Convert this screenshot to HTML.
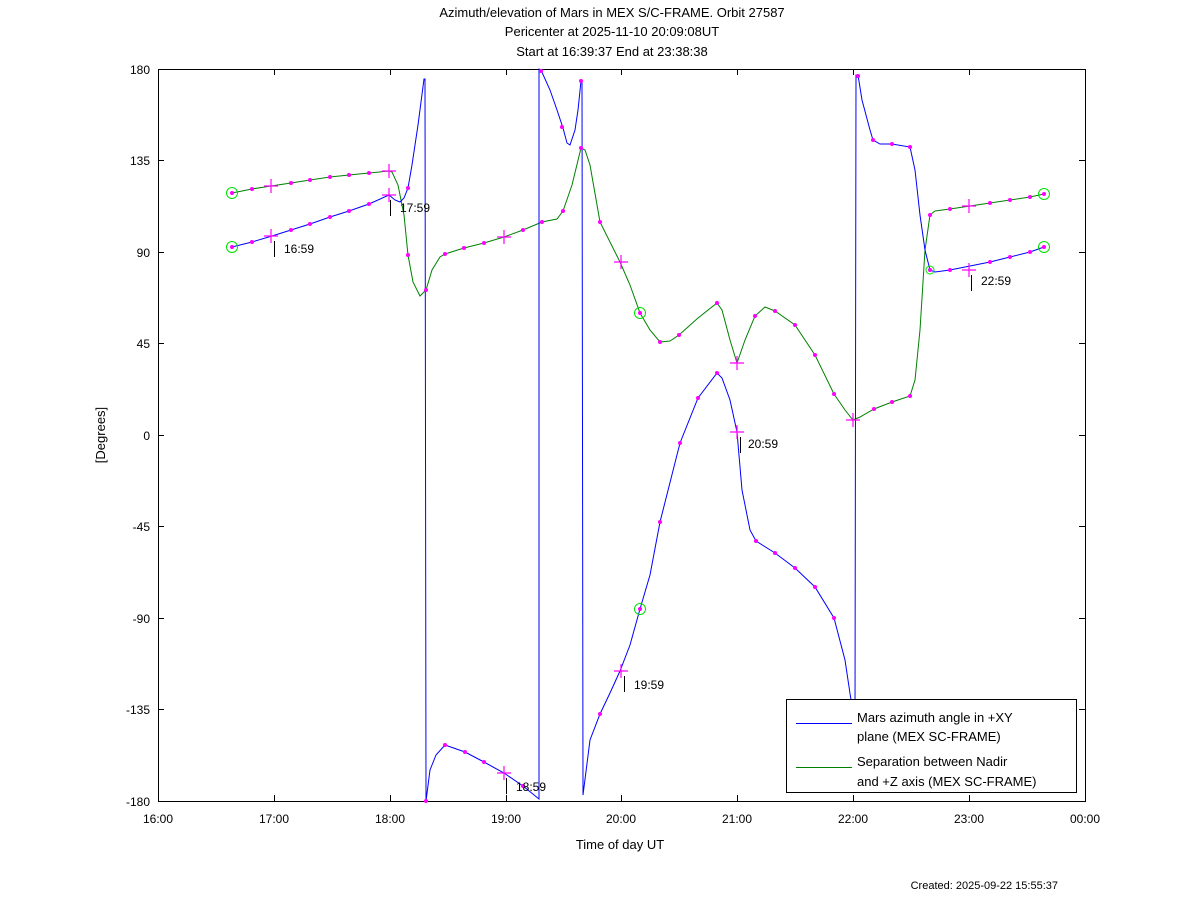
<!DOCTYPE html>
<html><head><meta charset="utf-8"><style>
html,body{margin:0;padding:0;background:#fff;}
svg{display:block;font-family:"Liberation Sans",sans-serif;}
</style></head><body>
<svg width="1200" height="901" viewBox="0 0 1200 901" xmlns="http://www.w3.org/2000/svg">
<rect width="1200" height="901" fill="#fff"/>
<g font-size="13" fill="#000" text-anchor="middle">
<text x="612" y="17">Azimuth/elevation of Mars in MEX S/C-FRAME.  Orbit 27587</text>
<text x="612" y="36">Pericenter at 2025-11-10 20:09:08UT</text>
<text x="612" y="56">Start at 16:39:37 End at 23:38:38</text>
<text x="620" y="849">Time of day UT</text>
<text x="105" y="435" transform="rotate(-90 105 435)">[Degrees]</text>
</g>
<text x="1058" y="889" font-size="11" text-anchor="end">Created: 2025-09-22 15:55:37</text>
<rect x="158.5" y="69.5" width="927" height="732" fill="none" stroke="#000"/>
<g stroke="#000">
<line x1="158" y1="69.5" x2="164" y2="69.5"/><line x1="1079" y1="69.5" x2="1085" y2="69.5"/>
<line x1="158" y1="160.5" x2="164" y2="160.5"/><line x1="1079" y1="160.5" x2="1085" y2="160.5"/>
<line x1="158" y1="252.5" x2="164" y2="252.5"/><line x1="1079" y1="252.5" x2="1085" y2="252.5"/>
<line x1="158" y1="343.5" x2="164" y2="343.5"/><line x1="1079" y1="343.5" x2="1085" y2="343.5"/>
<line x1="158" y1="435.5" x2="164" y2="435.5"/><line x1="1079" y1="435.5" x2="1085" y2="435.5"/>
<line x1="158" y1="526.5" x2="164" y2="526.5"/><line x1="1079" y1="526.5" x2="1085" y2="526.5"/>
<line x1="158" y1="618.5" x2="164" y2="618.5"/><line x1="1079" y1="618.5" x2="1085" y2="618.5"/>
<line x1="158" y1="709.5" x2="164" y2="709.5"/><line x1="1079" y1="709.5" x2="1085" y2="709.5"/>
<line x1="274.5" y1="69" x2="274.5" y2="75"/><line x1="274.5" y1="795" x2="274.5" y2="801"/>
<line x1="390.5" y1="69" x2="390.5" y2="75"/><line x1="390.5" y1="795" x2="390.5" y2="801"/>
<line x1="506.5" y1="69" x2="506.5" y2="75"/><line x1="506.5" y1="795" x2="506.5" y2="801"/>
<line x1="621.5" y1="69" x2="621.5" y2="75"/><line x1="621.5" y1="795" x2="621.5" y2="801"/>
<line x1="737.5" y1="69" x2="737.5" y2="75"/><line x1="737.5" y1="795" x2="737.5" y2="801"/>
<line x1="853.5" y1="69" x2="853.5" y2="75"/><line x1="853.5" y1="795" x2="853.5" y2="801"/>
<line x1="969.5" y1="69" x2="969.5" y2="75"/><line x1="969.5" y1="795" x2="969.5" y2="801"/>
</g>
<g font-size="12" text-anchor="end">
<text x="150" y="74">180</text><text x="150" y="165">135</text><text x="150" y="257">90</text>
<text x="150" y="348">45</text><text x="150" y="440">0</text><text x="150" y="531">-45</text>
<text x="150" y="623">-90</text><text x="150" y="714">-135</text><text x="150" y="806">-180</text>
</g>
<g font-size="12" text-anchor="middle">
<text x="158" y="823">16:00</text><text x="274" y="823">17:00</text><text x="390" y="823">18:00</text>
<text x="506" y="823">19:00</text><text x="621" y="823">20:00</text><text x="737" y="823">21:00</text>
<text x="853" y="823">22:00</text><text x="969" y="823">23:00</text><text x="1085" y="823">00:00</text>
</g>
<polyline fill="none" stroke="#008000" points="232,193 252,189 271,186 291,183 310,180 330,177 349,175 369,173 389,171 392,172 398,185 404,215 408,255 413,282 420,296 426,290 432,270 440,257 445,254 464,248 484,243 504,237 523,230 542,222 557,219 563,211 572,185 581,148 585,150 590,165 600,222 620,262 630,285 640,313 650,330 660,342 670,341 679,335 698,318 717,303 722,310 730,340 737,363 745,340 755,316 765,307 775,311 795,325 815,355 834,394 845,410 853,420 860,417 874,409 892,402 910,396 915,380 920,330 925,250 930,215 935,211 950,209 970,206 990,203 1010,200 1030,197 1044,194"/>
<polyline fill="none" stroke="#0000ff" points="232,247 252,242 272,236 291,230 310,224 330,217 349,211 369,204 389,195 395,200 400,202 404,198 408,188 412,165 418,125 424,79 425,79 426,801 430,770 436,755 445,745 465,752 484,762 504,773 523,786 539,799 539,69 541,70 550,90 557,110 563,128 567,143 570,145 575,130 578,110 581,81 582,81 583,795 590,740 600,714 610,693 620,671 630,645 640,609 650,575 660,522 680,443 698,398 717,373 722,378 730,400 737,432 742,490 750,530 756,541 775,553 795,568 815,587 834,618 845,660 851,700 853,720 855,720 856,75 858,75 862,100 870,130 873,140 880,144 892,144 910,147 915,170 920,215 925,250 930,270 935,272 950,270 970,266 990,262 1010,257 1030,252 1044,247"/>
<g fill="#ff00ff">
<circle cx="232" cy="193" r="2"/><circle cx="252" cy="189" r="2"/><circle cx="291" cy="183" r="2"/><circle cx="310" cy="180" r="2"/><circle cx="330" cy="177" r="2"/><circle cx="349" cy="175" r="2"/><circle cx="369" cy="173" r="2"/>
<circle cx="408" cy="255" r="2"/><circle cx="426" cy="290" r="2"/><circle cx="445" cy="254" r="2"/><circle cx="464" cy="248" r="2"/><circle cx="484" cy="243" r="2"/><circle cx="523" cy="230" r="2"/><circle cx="542" cy="222" r="2"/><circle cx="563" cy="211" r="2"/><circle cx="581" cy="148" r="2"/><circle cx="600" cy="222" r="2"/><circle cx="640" cy="313" r="2"/><circle cx="660" cy="342" r="2"/><circle cx="679" cy="335" r="2"/><circle cx="717" cy="303" r="2"/><circle cx="755" cy="316" r="2"/><circle cx="775" cy="311" r="2"/><circle cx="795" cy="325" r="2"/><circle cx="815" cy="355" r="2"/><circle cx="834" cy="394" r="2"/><circle cx="874" cy="409" r="2"/><circle cx="892" cy="402" r="2"/><circle cx="910" cy="396" r="2"/><circle cx="930" cy="215" r="2"/><circle cx="950" cy="209" r="2"/><circle cx="990" cy="203" r="2"/><circle cx="1010" cy="200" r="2"/><circle cx="1030" cy="197" r="2"/><circle cx="1044" cy="194" r="2"/>
<circle cx="232" cy="247" r="2"/><circle cx="252" cy="242" r="2"/><circle cx="291" cy="230" r="2"/><circle cx="310" cy="224" r="2"/><circle cx="330" cy="217" r="2"/><circle cx="349" cy="211" r="2"/><circle cx="369" cy="204" r="2"/><circle cx="408" cy="188" r="2"/><circle cx="426" cy="801" r="2"/><circle cx="445" cy="745" r="2"/><circle cx="465" cy="752" r="2"/><circle cx="484" cy="762" r="2"/><circle cx="523" cy="786" r="2"/><circle cx="541" cy="71" r="2"/><circle cx="562" cy="127" r="2"/><circle cx="581" cy="81" r="2"/><circle cx="600" cy="714" r="2"/><circle cx="640" cy="609" r="2"/><circle cx="660" cy="522" r="2"/><circle cx="680" cy="443" r="2"/><circle cx="698" cy="398" r="2"/><circle cx="717" cy="373" r="2"/><circle cx="756" cy="541" r="2"/><circle cx="775" cy="553" r="2"/><circle cx="795" cy="568" r="2"/><circle cx="815" cy="587" r="2"/><circle cx="834" cy="618" r="2"/><circle cx="858" cy="76" r="2"/><circle cx="873" cy="140" r="2"/><circle cx="892" cy="144" r="2"/><circle cx="910" cy="147" r="2"/><circle cx="930" cy="270" r="2"/><circle cx="950" cy="270" r="2"/><circle cx="990" cy="262" r="2"/><circle cx="1010" cy="257" r="2"/><circle cx="1030" cy="252" r="2"/><circle cx="1044" cy="247" r="2"/>
</g>
<g stroke="#ff00ff" stroke-width="1.2">
<path d="M264 186h14M271 179v14M264 236h14M271 229v14M382 171h14M389 164v14M382 195h14M389 188v14M497 237h14M504 230v14M497 773h14M504 766v14M614 262h14M621 255v14M614 671h14M621 664v14M730 363h14M737 356v14M730 432h14M737 425v14M846 420h14M853 413v14M962 270h14M969 263v14M962 206h14M969 199v14"/>
</g>
<g fill="none" stroke="#00e000">
<circle cx="232" cy="193" r="5.5"/><circle cx="232" cy="247" r="5.5"/><circle cx="640" cy="313" r="5.5"/><circle cx="640" cy="609" r="5.5"/><circle cx="1044" cy="194" r="5.5"/><circle cx="1044" cy="247" r="5.5"/><circle cx="930" cy="270" r="4"/>
</g>
<g stroke="#000">
<path d="M274.5 241v16M390.5 200v16M506.5 778v16M624.5 676v16M740.5 437v16M971.5 275v16"/>
</g>
<g font-size="12">
<text x="284" y="253">16:59</text><text x="400" y="212">17:59</text><text x="516" y="791">18:59</text>
<text x="634" y="689">19:59</text><text x="748" y="448">20:59</text><text x="981" y="285">22:59</text>
</g>
<rect x="786.5" y="699.5" width="290" height="93" fill="#fff" stroke="#000"/>
<line x1="796" y1="723.5" x2="852" y2="723.5" stroke="#0000ff"/>
<line x1="796" y1="767.5" x2="852" y2="767.5" stroke="#008000"/>
<g font-size="13">
<text x="857" y="722">Mars azimuth angle in +XY</text>
<text x="857" y="741">plane (MEX SC-FRAME)</text>
<text x="857" y="766">Separation between Nadir</text>
<text x="857" y="786">and +Z axis (MEX SC-FRAME)</text>
</g>
</svg>
</body></html>
